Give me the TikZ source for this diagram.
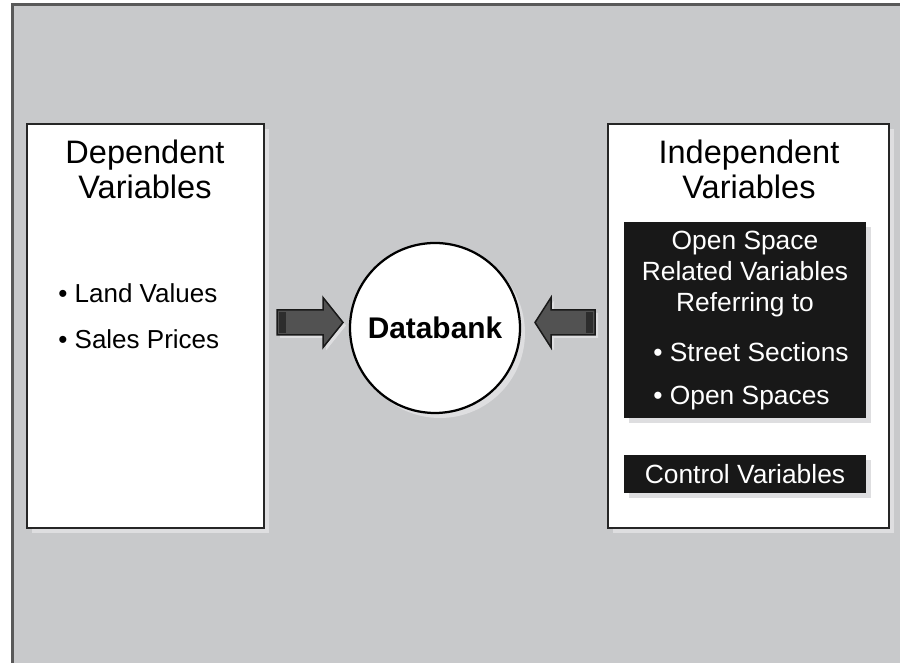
\documentclass[tikz,border=0pt]{standalone}
\usepackage{fontspec}
\setmainfont{Liberation Sans}
\usetikzlibrary{shadows}

\definecolor{panelgray}{RGB}{200,201,203}
\definecolor{arrowgray}{RGB}{82,82,82}
\definecolor{bandgray}{RGB}{45,45,45}
\definecolor{boxblack}{RGB}{24,24,24}
\definecolor{shadowgray}{RGB}{222,222,224}

\begin{document}
\begin{tikzpicture}[line join=miter,
	varbox/.style={draw=black!85, line width=0.05cm, fill=white, minimum width=4.74cm, minimum height=8.08cm, inner sep=0pt,
		drop shadow={fill=shadowgray, opacity=1, shadow xshift=0.1cm, shadow yshift=-0.1cm}},
	darkbox/.style={fill=boxblack, minimum width=4.84cm, inner sep=0pt,
		drop shadow={fill=shadowgray, opacity=1, shadow xshift=0.1cm, shadow yshift=-0.1cm}},
	headtext/.style={align=center, inner sep=0pt, font=\fontsize{18.5}{19.9}\selectfont},
	listtext/.style={anchor=west, inner sep=0pt, font=\fontsize{14.8}{17.6}\selectfont},
	darktext/.style={text=white, inner sep=0pt, font=\fontsize{15}{17.6}\selectfont},
	blockarrow/.style={fill=arrowgray, draw=black!90, line width=0.03cm,
		drop shadow={fill=shadowgray, opacity=1, shadow xshift=0.06cm, shadow yshift=-0.06cm}}]

	% background panel
	\useasboundingbox (0, 0) rectangle (18, 13.26);
	\fill[white] (0, 0) rectangle (18, 13.26);
	\fill[panelgray] (0.24, 0) rectangle (18, 13.16);
	\draw[black!65, line width=0.06cm] (0.24, 0) -- (0.24, 13.16) -- (18, 13.16);

	% dependent variables
	\node[varbox] (depbox) at (2.91, 6.74) {};
	\node[headtext] (deptitle) at (2.90, 9.87) {Dependent\\Variables};
	\node[listtext] (land) at (1.16, 7.40) {• Land Values};
	\node[listtext] (sales) at (1.16, 6.48) {• Sales Prices};

	% databank
	\node[circle, draw=black, line width=0.045cm, fill=white, minimum size=3.4cm, inner sep=0pt,
		drop shadow={fill=shadowgray, opacity=1, shadow xshift=0.1cm, shadow yshift=-0.1cm},
		font=\fontsize{17}{20}\selectfont\bfseries] (databank) at (8.70, 6.70) {Databank};

	% arrows
	\coordinate (ltail) at (5.54, 6.81);
	\coordinate (ltip) at (6.86, 6.81);
	\filldraw[blockarrow] (ltail) ++(0, 0.25) -- ++(0.92, 0) -- ++(0, 0.25) -- (ltip) -- ++(-0.4, -0.5) -- ++(0, 0.25) -- ++(-0.92, 0) -- cycle;
	\fill[bandgray] (ltail) ++(0.04, 0.21) rectangle ++(0.14, -0.42);

	\coordinate (rtail) at (11.90, 6.81);
	\coordinate (rtip) at (10.70, 6.81);
	\filldraw[blockarrow] (rtail) ++(0, 0.25) -- ++(-0.88, 0) -- ++(0, 0.25) -- (rtip) -- ++(0.32, -0.5) -- ++(0, 0.25) -- ++(0.88, 0) -- cycle;
	\fill[bandgray] (rtail) ++(-0.04, 0.21) rectangle ++(-0.14, -0.42);

	% independent variables
	\node[varbox, minimum width=5.62cm] (indepbox) at (14.97, 6.74) {};
	\node[headtext] (indeptitle) at (14.98, 9.87) {Independent\\Variables};

	\node[darkbox, minimum height=3.92cm] (openbox) at (14.90, 6.86) {};
	\node[darktext, align=center] (opentitle) at (14.90, 7.78) {Open Space\\Related Variables\\Referring to};
	\node[darktext, anchor=west] (street) at (13.06, 6.22) {• Street Sections};
	\node[darktext, anchor=west] (openspaces) at (13.06, 5.30) {• Open Spaces};

	\node[darkbox, minimum height=0.76cm] (ctrlbox) at (14.90, 3.78) {};
	\node[darktext] (ctrl) at (14.90, 3.78) {Control Variables};

\end{tikzpicture}
\end{document}
